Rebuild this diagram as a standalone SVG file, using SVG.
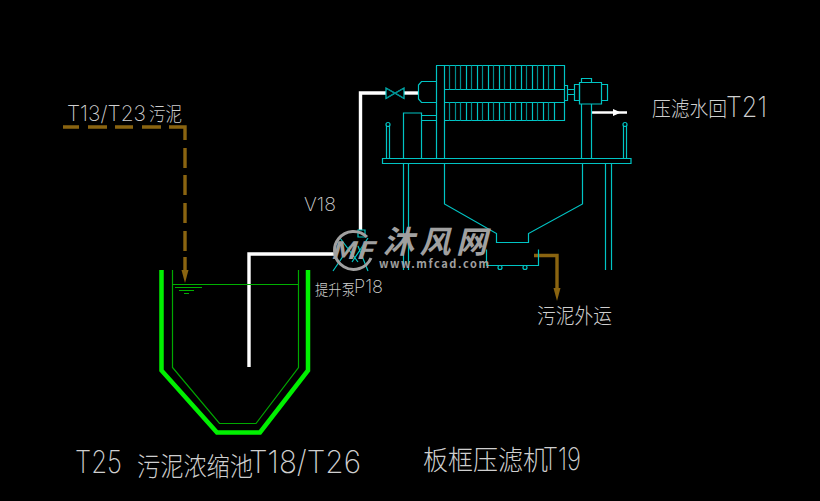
<svg xmlns="http://www.w3.org/2000/svg" width="820" height="501" viewBox="0 0 820 501">
<style>
.c{fill:none;stroke:#00c4c4;stroke-width:1.2}
.d{fill:none;stroke:#008c8e;stroke-width:1.2}
.w{fill:none;stroke:#fff;stroke-width:3.400}
.b{fill:none;stroke:#8a6410;stroke-width:3.400}
.bh{fill:#8a6410}
.t{font-family:"Inter","Liberation Sans","Noto Sans CJK SC",sans-serif;fill:#cfcfcf;font-weight:200}
.z{font-family:"Noto Sans CJK SC",sans-serif;fill:#cfcfcf;font-weight:300}
.m{font-family:"Noto Sans CJK SC","Liberation Sans",sans-serif;fill:#a0a0a0;font-weight:700;font-style:italic}
</style>
<rect width="820" height="501" fill="#000"/>
<g id="connectors">
<path class="b" d="M63 127H79M88 127H107M115 127H133M142 127H161M169 127H185V140M185 148V168M185 175V195M185 203V223M185 231V251M185 257V272"/>
<path class="bh" d="M181.500 270H188.500L185 283Z"/>
<path class="w" d="M249 367V254H335"/>
<path class="w" d="M360.500 230V93H386"/>
<path class="w" d="M404 93H418"/>
<path class="b" d="M534 255.500H557V290"/>
<path class="bh" d="M553.500 288H560.500L557 301Z"/>
<path fill="none" stroke="#fff" stroke-width="2.400" d="M591 112.500H627"/>
<path fill="#fff" d="M613 109L621 112.500L613 116Z"/>
</g>
<g id="tank">
<path fill="none" stroke="#00f000" stroke-width="4.500" d="M161.500 270V370.500L217 432.500H260L308 370.500V270"/>
<path fill="none" stroke="#00a800" stroke-width="1.200" d="M172.500 270V367.500L219.500 423.500H256L298.500 367.500V270"/>
<path fill="none" stroke="#00b000" stroke-width="1.200" d="M172 284.500H298M175 287.500H202M179 290.500H194M184 293.500H189"/>
</g>
<g id="filter-press">
<path class="c" d="M436 65.500H564.500V120.500H444M436.500 65.500V158M444.500 65.500V158M444 89.500H564M444 102.500H564"/>
<path class="c" d="M466.500 65.500V89.500M477.500 65.500V89.500M488.500 65.500V89.500M499.500 65.500V89.500M510.500 65.500V89.500M521.500 65.500V89.500M532.500 65.500V89.500M543.500 65.500V89.500M554.500 65.500V89.500M466.500 102.500V120.500M477.500 102.500V120.500M488.500 102.500V120.500M499.500 102.500V120.500M510.500 102.500V120.500M521.500 102.500V120.500M532.500 102.500V120.500M543.500 102.500V120.500M554.500 102.500V120.500"/>
<path class="d" d="M449.500 65.500V89.500M455.500 65.500V89.500M460.500 65.500V89.500M471.500 65.500V89.500M482.500 65.500V89.500M493.500 65.500V89.500M504.500 65.500V89.500M515.500 65.500V89.500M526.500 65.500V89.500M537.500 65.500V89.500M548.500 65.500V89.500M449.500 102.500V120.500M455.500 102.500V120.500M460.500 102.500V120.500M471.500 102.500V120.500M482.500 102.500V120.500M493.500 102.500V120.500M504.500 102.500V120.500M515.500 102.500V120.500M526.500 102.500V120.500M537.500 102.500V120.500M548.500 102.500V120.500"/>
<path class="c" d="M436 81.500H421.500L418.500 85V99L421.500 102.500H436"/>
<path class="c" d="M403.500 158V113H421.500V158M421.500 115.500H436M421.500 120.500H436"/>
<path class="c" d="M564.500 85.500H567.500V100.500H564.500M567.500 89.500H574.500M567.500 94.500H574.500"/>
<path class="c" d="M574.500 84.500H579.500V100.500H574.500Z"/>
<path class="c" d="M579.500 82.500H601.500V104H579.500Z"/>
<path class="c" d="M581.500 82V78.500H591.500V82"/>
<path class="c" d="M601.500 84.500H607.500V100.500H601.500"/>
<path class="c" d="M581.500 104V158M591.500 104V158"/>
<path class="c" d="M382.500 158.500H631V163.500H382.500Z"/>
<path class="c" d="M386.500 158V126M389.500 158V126M623.500 158V126M626.500 158V126"/>
<circle class="c" cx="388" cy="124.500" r="2"/>
<circle class="c" cx="625" cy="124.500" r="2"/>
<path class="c" d="M403.500 164V270M408.500 164V270M605.500 164V270M611.500 164V270"/>
<path class="c" d="M444.500 164V204L496.500 233.500V242.500H528.500V233.500L582.500 204V164"/>
<path class="c" d="M486.500 249.500V265.500H538.500V249.500"/>
<circle class="c" cx="500" cy="267.500" r="2"/>
<circle class="c" cx="525" cy="267.500" r="2"/>
</g>
<g id="valve">
<path class="c" d="M386 88V98.500L404 88V98.500Z"/>
<path class="d" d="M386.500 88.500L395 93L403.500 88.500M386.500 98L395 93L403.500 98"/>
</g>
<g id="pump">
<path class="c" d="M358 230H365V237H358ZM333 271L350 246M368 271L358 246M340 238L358 262M368 238L352 262"/>
</g>
<g id="watermark">
<path fill="none" stroke="#a0a0a0" stroke-width="3" d="M367 237A19 19 0 1 0 371 258"/>
<text class="m" x="330" y="259" font-size="24" textLength="43" lengthAdjust="spacingAndGlyphs">MF</text>
<text class="m" x="383" y="253" font-size="31" textLength="104">沐风网</text>
<text class="m" x="379" y="268" font-size="11" textLength="110" style="font-style:normal">www.mfcad.com</text>
</g>
<g id="labels">
<text class="t" x="67" y="121" font-size="21" textLength="79" lengthAdjust="spacingAndGlyphs">T13/T23</text>
<text class="z" x="149" y="121" font-size="19" textLength="33" lengthAdjust="spacingAndGlyphs">污泥</text>
<text class="t" x="304" y="211" font-size="19" textLength="32" lengthAdjust="spacingAndGlyphs">V18</text>
<text class="z" x="315" y="295" font-size="15" textLength="40" lengthAdjust="spacingAndGlyphs">提升泵</text>
<text class="t" x="354" y="293" font-size="18" textLength="29" lengthAdjust="spacingAndGlyphs">P18</text>
<text class="z" x="652" y="116" font-size="21" textLength="75" lengthAdjust="spacingAndGlyphs">压滤水回</text>
<text class="t" x="726" y="117" font-size="28" textLength="41" lengthAdjust="spacingAndGlyphs">T21</text>
<text class="z" x="537" y="323" font-size="21" textLength="75" lengthAdjust="spacingAndGlyphs">污泥外运</text>
<text class="t" x="75" y="473" font-size="31" textLength="47" lengthAdjust="spacingAndGlyphs">T25</text>
<text class="z" x="137" y="476" font-size="26" textLength="116" lengthAdjust="spacingAndGlyphs">污泥浓缩池</text>
<text class="t" x="249" y="473" font-size="31" textLength="112" lengthAdjust="spacingAndGlyphs">T18/T26</text>
<text class="z" x="423" y="470" font-size="27" textLength="125" lengthAdjust="spacingAndGlyphs">板框压滤机</text>
<text class="t" x="543" y="470" font-size="31" textLength="38" lengthAdjust="spacingAndGlyphs">T19</text>
</g>
</svg>
